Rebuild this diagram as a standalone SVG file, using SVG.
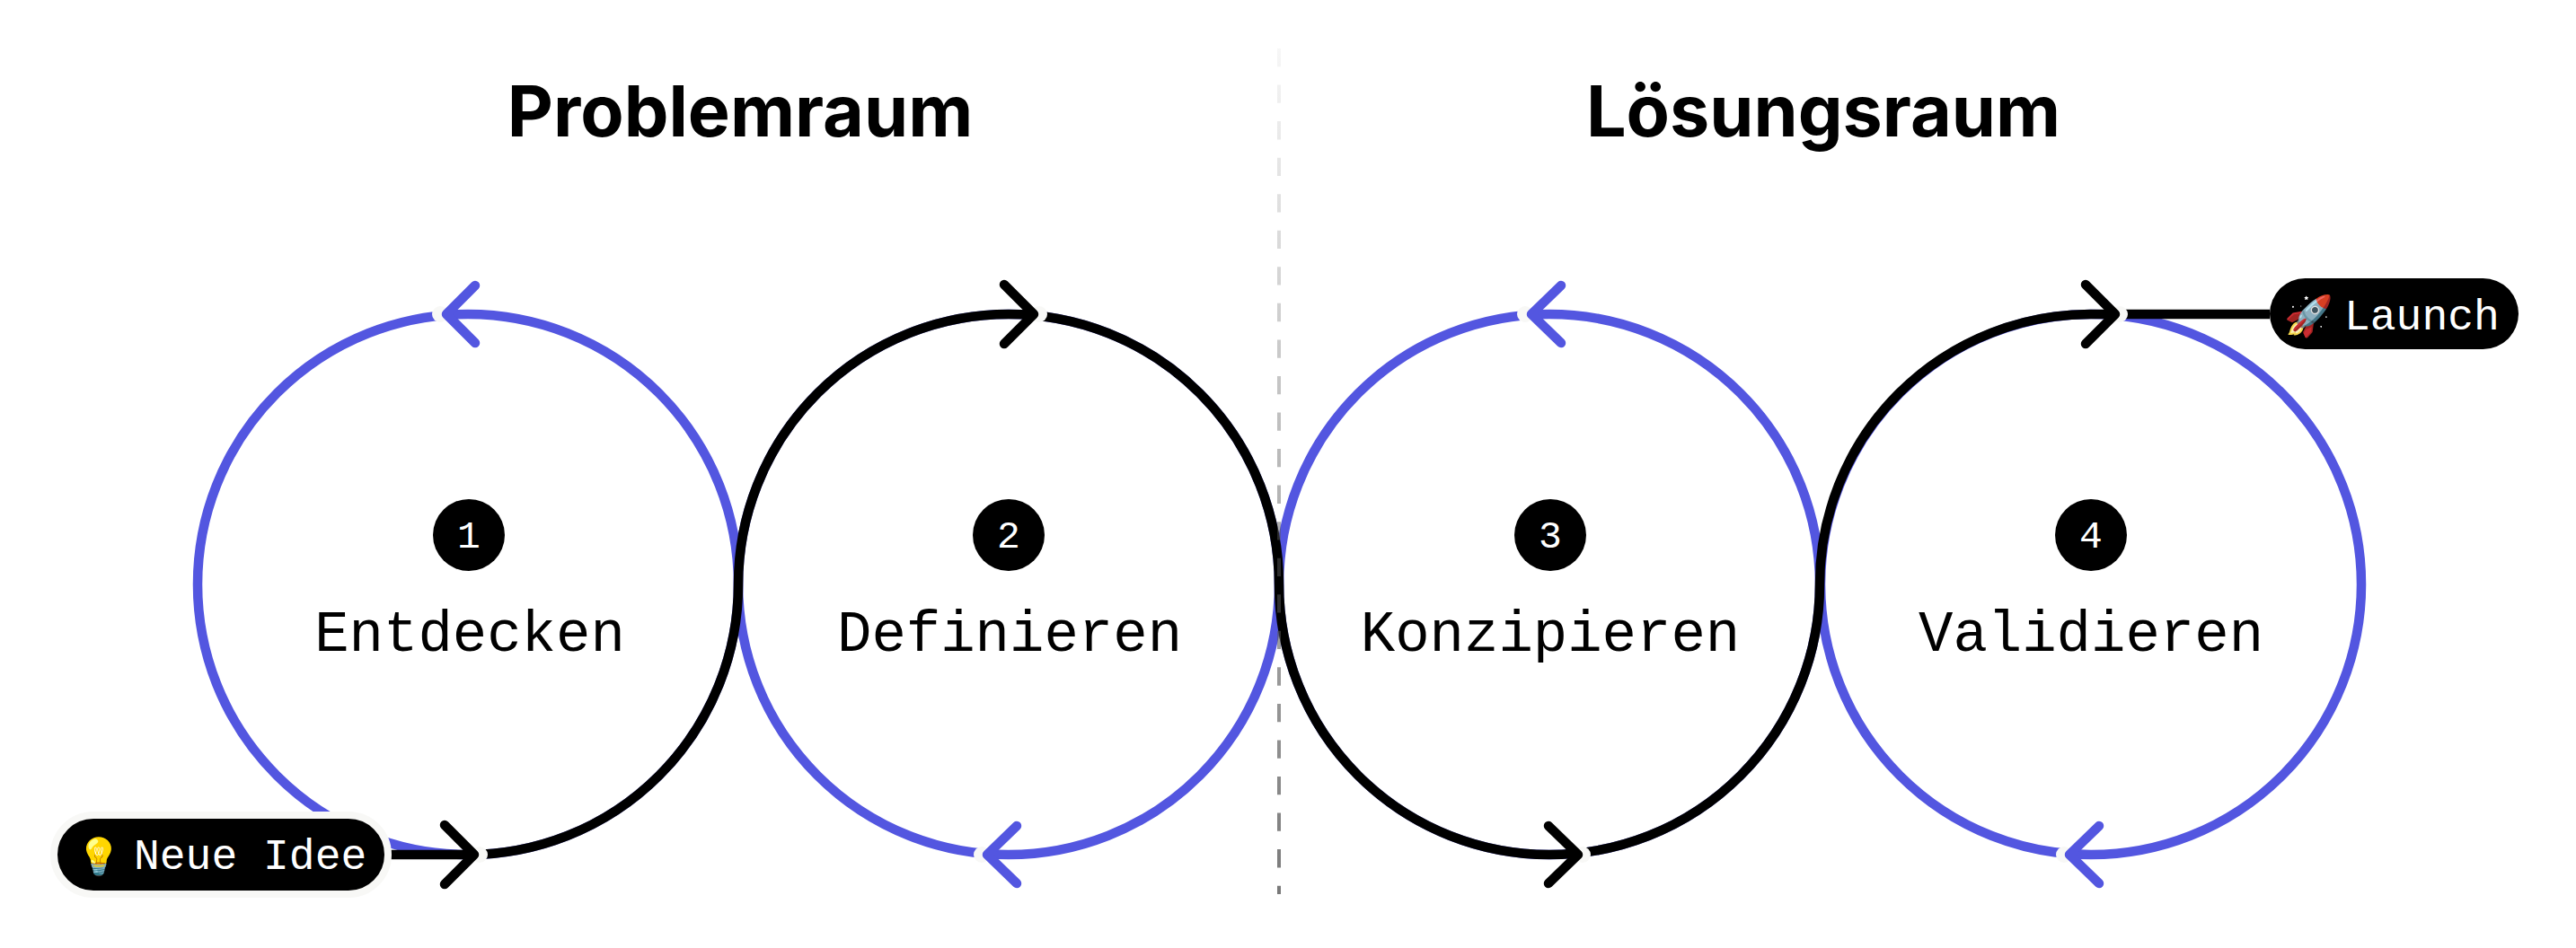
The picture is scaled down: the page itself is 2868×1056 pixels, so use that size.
<svg xmlns="http://www.w3.org/2000/svg" width="2868" height="1056" viewBox="0 0 2868 1056">
<defs>
<style>
.arc{fill:none;stroke-width:10.5}
.blue{stroke:#5356e0}
.blk{stroke:#000}
.chev{fill:none;stroke-width:10.5;stroke-linecap:round;stroke-linejoin:round}
.title{font-family:Inter,"Liberation Sans",sans-serif;font-weight:700;font-size:79px;fill:#000;text-anchor:middle}
.label{font-family:"Liberation Mono",monospace;font-size:64px;fill:#000;text-anchor:middle}
.num{font-family:"Liberation Mono",monospace;font-size:43px;fill:#fff;text-anchor:middle}
.pill{font-family:"Liberation Mono",monospace;font-size:48px;fill:#fff}
.bulb{font-size:40px}
.rocket{font-size:44px}
.dot{fill:#f8f8f6}
</style>
<linearGradient id="fade" gradientUnits="userSpaceOnUse" x1="0" y1="54" x2="0" y2="996">
<stop offset="0" stop-color="#575757" stop-opacity="0.05"/>
<stop offset="1" stop-color="#575757" stop-opacity="0.8"/>
</linearGradient>
</defs>
<rect width="2868" height="1056" fill="#fff"/>
<text class="title" x="824" y="152">Problemraum</text>
<text class="title" x="2030" y="152">Lösungsraum</text>
<g id="connectors">
<circle class="arc blue" cx="521" cy="651" r="301"/>
<circle class="arc blue" cx="1123" cy="651" r="301"/>
<circle class="arc blue" cx="1725" cy="651" r="301"/>
<circle class="arc blue" cx="2328" cy="651" r="301"/>
<path class="arc blk" d="M428 952H521A301 301 0 0 0 822 651A301 301 0 0 1 1424 651A301 301 0 0 0 2026 651A301 301 0 0 1 2328 350H2527"/>
<path d="M1424 54V996" fill="none" stroke="url(#fade)" stroke-width="4" stroke-dasharray="20.3 20.25"/>
<circle class="dot" cx="534" cy="952" r="9"/>
<circle class="dot" cx="1157" cy="350" r="9"/>
<circle class="dot" cx="1762" cy="952" r="9"/>
<circle class="dot" cx="2360" cy="350" r="9"/>
<circle class="dot" cx="490" cy="350" r="9"/>
<circle class="dot" cx="1093" cy="952" r="9"/>
<circle class="dot" cx="1698" cy="350" r="9"/>
<circle class="dot" cx="2298" cy="952" r="9"/>
<path class="chev blk" d="M495 919L528 952L495 985"/>
<path class="chev blk" d="M1118 317L1151 350L1118 383"/>
<path class="chev blk" d="M1724 920L1757 952L1724 984"/>
<path class="chev blk" d="M2322 317L2355 350L2322 383"/>
<path class="chev blue" d="M529 318L497 350L529 382"/>
<path class="chev blue" d="M1132 920L1099 952L1132 984"/>
<path class="chev blue" d="M1738 318L1705 350L1738 382"/>
<path class="chev blue" d="M2337 920L2304 952L2337 984"/>
</g>
<g id="node-1"><circle cx="522" cy="596" r="40"/><text class="num" x="522" y="610">1</text><text class="label" x="523" y="725">Entdecken</text></g>
<g id="node-2"><circle cx="1123" cy="596" r="40"/><text class="num" x="1123" y="610">2</text><text class="label" x="1124" y="725">Definieren</text></g>
<g id="node-3"><circle cx="1726" cy="596" r="40"/><text class="num" x="1726" y="610">3</text><text class="label" x="1726" y="725">Konzipieren</text></g>
<g id="node-4"><circle cx="2328" cy="596" r="40"/><text class="num" x="2328" y="610">4</text><text class="label" x="2328" y="725">Validieren</text></g>
<g id="start"><rect x="60" y="908" width="372" height="88" rx="44" stroke="#f8f8f6" stroke-width="8"/><text class="pill" y="968"><tspan class="bulb" x="85">💡</tspan><tspan x="149">Neue Idee</tspan></text></g>
<g id="end"><rect x="2527" y="310" width="277" height="79" rx="39.5" fill="#000"/><text class="pill" y="367"><tspan class="rocket" x="2543">🚀</tspan><tspan x="2610">Launch</tspan></text></g>
</svg>
